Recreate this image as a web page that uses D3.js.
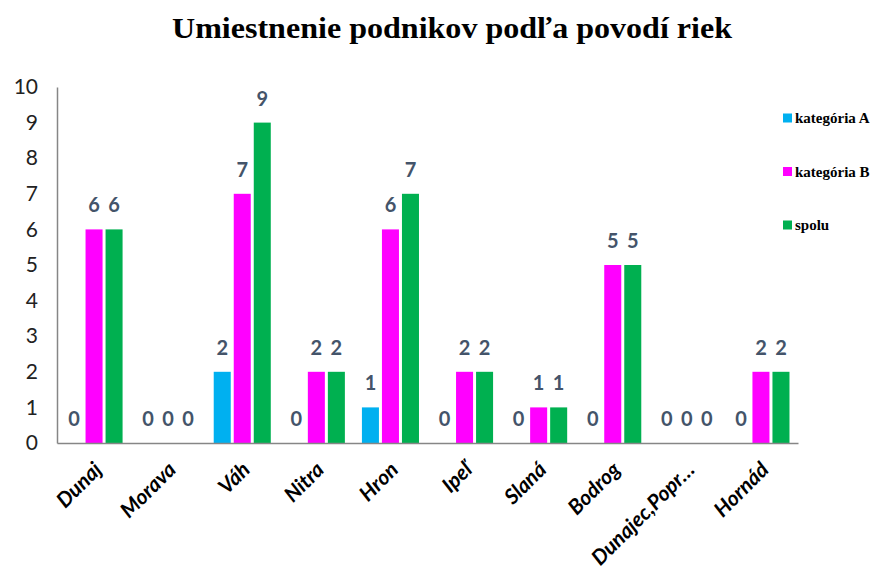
<!DOCTYPE html>
<html>
<head>
<meta charset="utf-8">
<script src="https://cdn.jsdelivr.net/npm/d3@7"></script>
<style>
  body { margin: 0; background: #fff; }
  svg { display: block; }
</style>
</head>
<body>
<svg id="chart" width="893" height="574"></svg>
<script>
const rivers = ['Dunaj', 'Morava', 'Váh', 'Nitra', 'Hron', 'Ipeľ', 'Slaná', 'Bodrog', 'Dunajec,Popr…', 'Hornád']
const seriesNames = ['kategória A', 'kategória B', 'spolu']
const catA = [0, 0, 2, 0, 1, 0, 0, 0, 0, 0]
const catB = [6, 0, 7, 2, 6, 2, 1, 5, 0, 2]
const total = [6, 0, 9, 2, 7, 2, 1, 5, 0, 2]
const yTicks = [0, 1, 2, 3, 4, 5, 6, 7, 8, 9, 10]
const colors = ['#00b0f0', '#ff00ff', '#00b050']

const svg = d3.select('#chart')
const margin = { top: 87, right: 95, bottom: 131, left: 57 }
const width = 893
const height = 574

const series = [catA, catB, total]

const x = d3.scaleBand()
  .domain(rivers)
  .range([margin.left, width - margin.right])
  .paddingInner(0.23)
  .paddingOuter(0.115)

const x1 = d3.scaleBand()
  .domain(d3.range(series.length))
  .range([0, x.bandwidth()])
  .paddingInner(0.15)

const y = d3.scaleLinear()
  .domain([0, 10])
  .range([height - margin.bottom, margin.top])

// title
svg.append('text')
  .attr('x', 452)
  .attr('y', 38)
  .attr('text-anchor', 'middle')
  .attr('font-family', '"Liberation Serif", serif')
  .attr('font-weight', 'bold')
  .attr('font-size', 29)
  .attr('textLength', 560)
  .attr('lengthAdjust', 'spacingAndGlyphs')
  .text('Umiestnenie podnikov podľa povodí riek')

// y axis
const yAxis = g => g
  .attr('transform', `translate(${margin.left},0)`)
  .call(d3.axisLeft(y).tickValues(yTicks).tickSize(0).tickPadding(19))
  .call(g => g.select('.domain').attr('stroke', '#868686').attr('stroke-width', 1.5))
  .call(g => g.selectAll('text')
    .attr('font-family', 'Lato, sans-serif')
    .attr('font-size', 21)
    .attr('fill', '#222'))

svg.append('g').call(yAxis)

// bars
series.forEach((values, si) => {
  svg.append('g')
    .selectAll('rect')
    .data(values)
    .enter()
    .append('rect')
    .attr('x', (d, i) => x(rivers[i]) + x1(si))
    .attr('y', d => y(d))
    .attr('width', x1.bandwidth())
    .attr('height', d => y(0) - y(d))
    .attr('fill', colors[si])

  svg.append('g')
    .selectAll('text')
    .data(values)
    .enter()
    .append('text')
    .attr('x', (d, i) => x(rivers[i]) + x1(si) + x1.bandwidth() / 2)
    .attr('y', d => y(d) - 17)
    .attr('text-anchor', 'middle')
    .attr('font-family', 'Lato, sans-serif')
    .attr('font-weight', 'bold')
    .attr('font-size', 20)
    .attr('fill', '#44546a')
    .text(d => d)
})

// x axis
const xAxis = g => g
  .attr('transform', `translate(0,${y(0)})`)
  .call(d3.axisBottom(x).tickSize(0).tickSizeOuter(0).tickFormat(''))
  .call(g => g.select('.domain').attr('stroke', '#868686').attr('stroke-width', 1.5))

svg.append('g').call(xAxis)

svg.append('g')
  .selectAll('text')
  .data(rivers)
  .enter()
  .append('text')
  .attr('transform', d => `translate(${x(d) + x.bandwidth() / 2 + 9},${y(0) + 28}) rotate(-45)`)
  .attr('text-anchor', 'end')
  .attr('font-family', 'Lato, sans-serif')
  .attr('font-weight', 'bold')
  .attr('font-style', 'italic')
  .attr('font-size', 21)
  .attr('fill', '#000')
  .text(d => d)

// legend
const legend = svg.append('g')
  .selectAll('g')
  .data(seriesNames)
  .enter()
  .append('g')
  .attr('transform', (d, i) => `translate(783,${118 + i * 53.5})`)

legend.append('rect')
  .attr('x', 0)
  .attr('y', -4.5)
  .attr('width', 9)
  .attr('height', 9)
  .attr('fill', (d, i) => colors[i])

legend.append('text')
  .attr('x', 12)
  .attr('y', 5)
  .attr('font-family', '"Liberation Serif", serif')
  .attr('font-weight', 'bold')
  .attr('font-size', 15)
  .text(d => d)
</script>
</body>
</html>
